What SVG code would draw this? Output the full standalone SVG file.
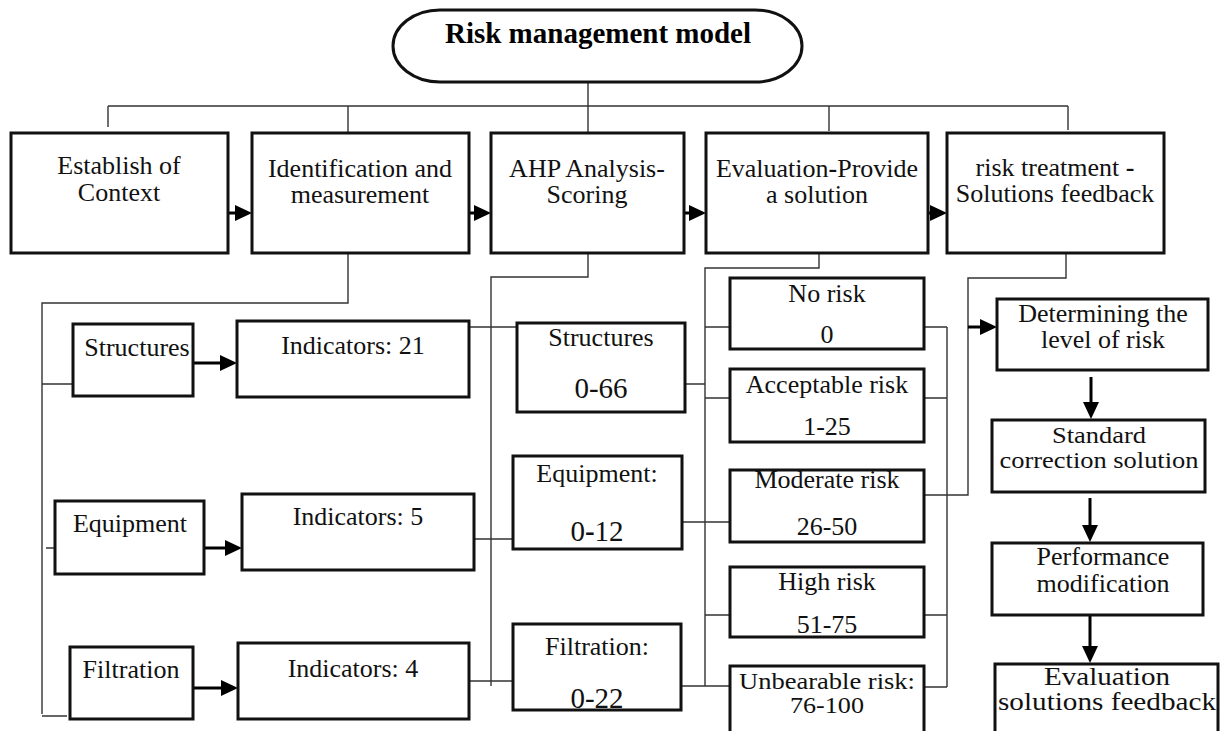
<svg xmlns="http://www.w3.org/2000/svg" width="1220" height="731" viewBox="0 0 1220 731">
<style>
.box{fill:#fff;stroke:#111;stroke-width:3}
.ln{fill:none;stroke:#333;stroke-width:1.4}
.arr{fill:none;stroke:#000;stroke-width:3;marker-end:url(#ah)}
.t{font-family:"Liberation Serif","Times New Roman",serif;font-size:26px;text-anchor:middle;fill:#111}
.big{font-size:29px}
.sm{font-size:24px}
.title{font-family:"Liberation Serif","Times New Roman",serif;font-size:29px;font-weight:bold;text-anchor:middle;fill:#000}
.b{font-weight:bold}
</style>
<defs>
<marker id="ah" markerUnits="userSpaceOnUse" markerWidth="17" markerHeight="16" refX="9" refY="8" orient="auto">
<path d="M0,0 L17,8 L0,16 Z" fill="#000"/>
</marker>
</defs>
<rect width="1220" height="731" fill="#fff"/>

<g id="connectors">
<path class="ln" d="M588,82 V106 M108,106 H1068 M108,106 V127 M348,106 V132 M588,106 V133 M829,106 V131 M1068,106 V130"/>
<path class="arr" d="M228,213 H244"/>
<path class="arr" d="M469,213 H483"/>
<path class="arr" d="M684,213 H698"/>
<path class="arr" d="M928,213 H939"/>
<path class="ln" d="M348,253 V303 H42 V714 M42,716 H67 M42,384 H73 M46,548 H55"/>
<path class="arr" d="M193,363 H229"/>
<path class="arr" d="M193,548 H234"/>
<path class="arr" d="M193,688 H230"/>
<path class="ln" d="M588,253 V277 H491 V686 M469,327 H517 M474,539 H513 M469,681 H513"/>
<path class="ln" d="M819,253 V268 H705 V686 M705,327 H730 M685,384 H705 M705,398 H730 M682,522 H730 M705,615 H730 M681,686 H730"/>
<path class="ln" d="M947,327 V687 M924,327 H947 M924,398 H947 M924,615 H947 M924,687 H947 M924,495 H968 V278 H1066 V253"/>
<path class="arr" d="M968,327 H989"/>
<path class="arr" d="M1091,377 V411"/>
<path class="arr" d="M1090,498 V534"/>
<path class="arr" d="M1090,615 V655"/>
</g>

<g id="title">
<path class="box" d="M440,10 H755 A47,36 0 0 1 755,82 H440 A47,36 0 0 1 440,10 Z"/>
<text class="title" x="598" y="43">Risk management model</text>
</g>

<g id="establish">
<rect class="box" x="11" y="133" width="217" height="120"/>
<text class="t" x="119" y="174">Establish of</text>
<text class="t" x="119" y="201">Context</text>
</g>
<g id="identification">
<rect class="box" x="252" y="133" width="217" height="120"/>
<text class="t" x="360" y="177">Identification and</text>
<text class="t" x="360" y="203">measurement</text>
</g>
<g id="ahp">
<rect class="box" x="491" y="133" width="193" height="120"/>
<text class="t" x="587" y="177">AHP Analysis-</text>
<text class="t" x="587" y="203">Scoring</text>
</g>
<g id="evaluation">
<rect class="box" x="706" y="133" width="222" height="120"/>
<text class="t" x="817" y="177">Evaluation<tspan class="b">-</tspan>Provide</text>
<text class="t" x="817" y="203">a solution</text>
</g>
<g id="treatment">
<rect class="box" x="947" y="133" width="217" height="120"/>
<text class="t" x="1055" y="176">risk treatment <tspan class="b">-</tspan></text>
<text class="t" x="1055" y="202">Solutions feedback</text>
</g>

<g id="structures">
<rect class="box" x="73" y="324" width="120" height="72"/>
<text class="t" x="137" y="356">Structures</text>
</g>
<g id="ind21">
<rect class="box" x="237" y="321" width="232" height="76"/>
<text class="t" x="353" y="354">Indicators: 21</text>
</g>
<g id="equipment">
<rect class="box" x="55" y="501" width="149" height="73"/>
<text class="t" x="130" y="532">Equipment</text>
</g>
<g id="ind5">
<rect class="box" x="242" y="494" width="232" height="76"/>
<text class="t" x="358" y="525">Indicators: 5</text>
</g>
<g id="filtration">
<rect class="box" x="70" y="647" width="123" height="72"/>
<text class="t" x="131" y="678">Filtration</text>
</g>
<g id="ind4">
<rect class="box" x="238" y="643" width="231" height="76"/>
<text class="t" x="353" y="677">Indicators: 4</text>
</g>

<g id="score-structures">
<rect class="box" x="517" y="323" width="168" height="89"/>
<text class="t" x="601" y="346">Structures</text>
<text class="t big" x="601" y="398">0-66</text>
</g>
<g id="score-equipment">
<rect class="box" x="513" y="456" width="169" height="93"/>
<text class="t" x="597" y="482">Equipment:</text>
<text class="t big" x="597" y="541">0<tspan class="b">-</tspan>12</text>
</g>
<g id="score-filtration">
<rect class="box" x="513" y="624" width="168" height="86"/>
<text class="t" x="597" y="655">Filtration:</text>
<text class="t big" x="597" y="708">0-22</text>
</g>

<g id="no-risk">
<rect class="box" x="730" y="278" width="194" height="71"/>
<text class="t" x="827" y="302">No risk</text>
<text class="t" x="827" y="343">0</text>
</g>
<g id="acceptable">
<rect class="box" x="730" y="369" width="194" height="73"/>
<text class="t" x="827" y="393">Acceptable risk</text>
<text class="t" x="827" y="435">1-25</text>
</g>
<g id="moderate">
<rect class="box" x="730" y="470" width="194" height="72"/>
<text class="t" x="827" y="488">Moderate risk</text>
<text class="t" x="827" y="535">26-50</text>
</g>
<g id="high">
<rect class="box" x="730" y="567" width="194" height="70"/>
<text class="t" x="827" y="590">High risk</text>
<text class="t" x="827" y="633">51-75</text>
</g>
<g id="unbearable">
<rect class="box" x="730" y="666" width="194" height="75"/>
<text class="t sm" x="827" y="689" textLength="176" lengthAdjust="spacingAndGlyphs">Unbearable risk:</text>
<text class="t sm" x="827" y="713" textLength="74" lengthAdjust="spacingAndGlyphs">76-100</text>
</g>

<g id="determining">
<rect class="box" x="997" y="299" width="211" height="71"/>
<text class="t" x="1103" y="322">Determining the</text>
<text class="t" x="1103" y="348">level of risk</text>
</g>
<g id="standard">
<rect class="box" x="992" y="420" width="213" height="72"/>
<text class="t sm" x="1099" y="443" textLength="94" lengthAdjust="spacingAndGlyphs">Standard</text>
<text class="t sm" x="1099" y="468" textLength="199" lengthAdjust="spacingAndGlyphs">correction solution</text>
</g>
<g id="performance">
<rect class="box" x="992" y="543" width="211" height="72"/>
<text class="t" x="1103" y="565">Performance</text>
<text class="t" x="1103" y="592">modification</text>
</g>
<g id="eval-feedback">
<rect class="box" x="995" y="664" width="223" height="76"/>
<text class="t" x="1107" y="685" textLength="126" lengthAdjust="spacingAndGlyphs">Evaluation</text>
<text class="t" x="1107" y="710" textLength="218" lengthAdjust="spacingAndGlyphs">solutions feedback</text>
</g>
</svg>
